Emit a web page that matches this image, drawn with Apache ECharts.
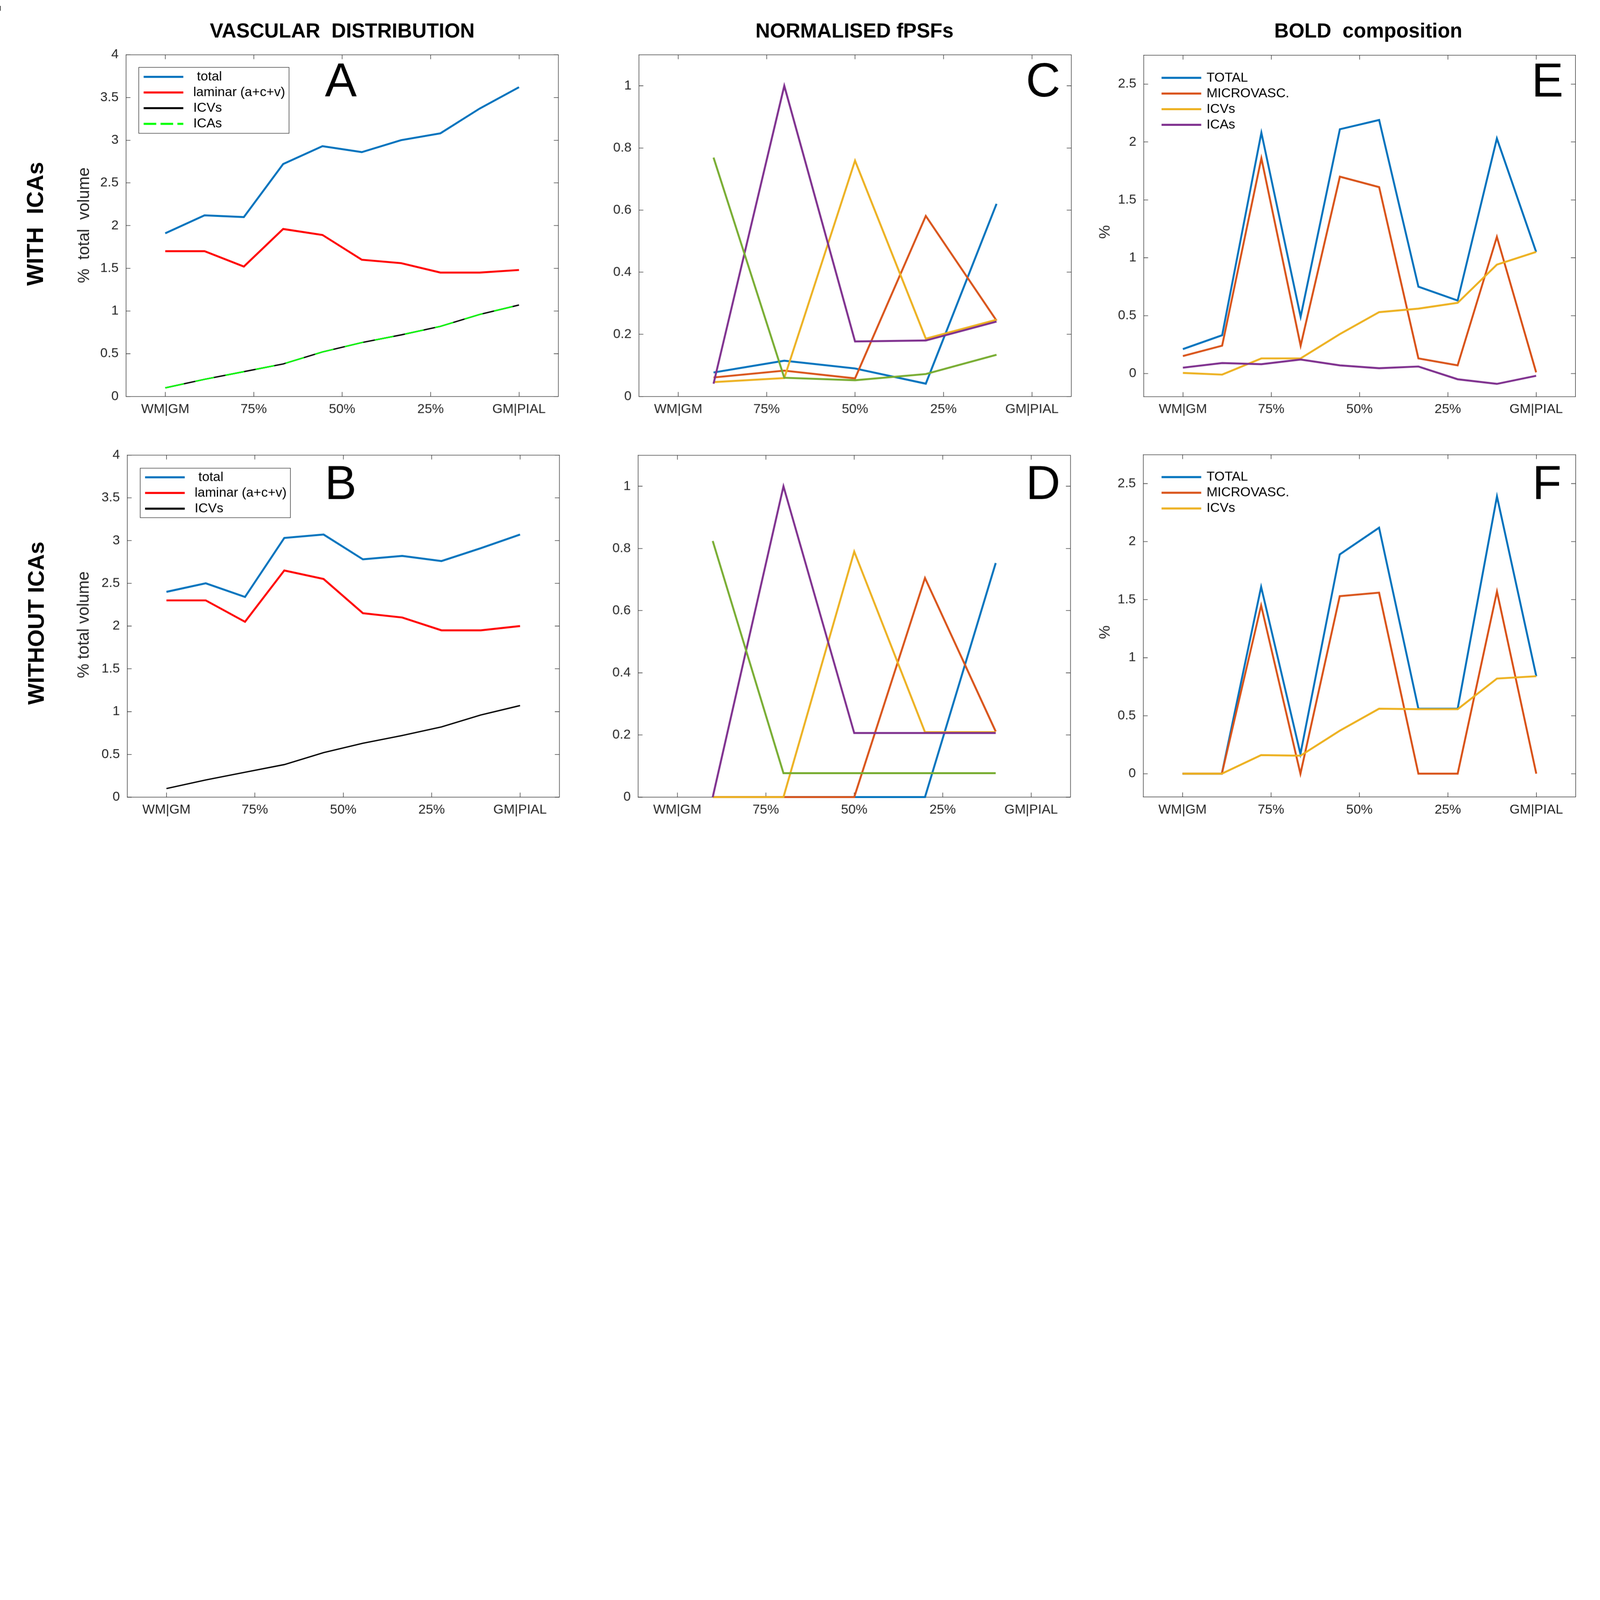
<!DOCTYPE html>
<html>
<head>
<meta charset="utf-8">
<script src="https://cdn.jsdelivr.net/npm/echarts@6/dist/echarts.min.js"></script>
<style>
html,body{margin:0;padding:0;background:#ffffff;overflow:hidden;}
#chart{width:7866px;height:4119px;transform-origin:0 0;}
</style>
</head>
<body>
<div id="chart"></div>
<script>
// ---------------- data ----------------
const xTickValues = [0, 25, 50, 75, 100];
const xTickLabels = ['WM|GM', '75%', '50%', '25%', 'GM|PIAL'];
// cortical depth of the 10 laminae (0 = WM|GM, 100 = GM|PIAL)
const layerDepth = [0, 11.11, 22.22, 33.33, 44.44, 55.56, 66.67, 77.78, 88.89, 100];
// centres of the 5 fPSF bins
const psfDepth = [10, 30, 50, 70, 90];

const volTicks = [0, 0.5, 1, 1.5, 2, 2.5, 3, 3.5, 4];
const psfTicks = [0, 0.2, 0.4, 0.6, 0.8, 1];
const boldTicks = [0, 0.5, 1, 1.5, 2, 2.5];

// Panel A : vascular distribution with ICAs
const aTotal   = [1.91, 2.12, 2.10, 2.72, 2.93, 2.86, 3.00, 3.08, 3.37, 3.62];
const aLaminar = [1.70, 1.70, 1.52, 1.96, 1.89, 1.60, 1.56, 1.45, 1.45, 1.48];
const aICVs    = [0.10, 0.20, 0.29, 0.38, 0.52, 0.63, 0.72, 0.82, 0.96, 1.07];
const aICAs    = [0.10, 0.20, 0.29, 0.38, 0.52, 0.63, 0.72, 0.82, 0.96, 1.07];

// Panel B : vascular distribution without ICAs
const bTotal   = [2.40, 2.50, 2.34, 3.03, 3.07, 2.78, 2.82, 2.76, 2.91, 3.07];
const bLaminar = [2.30, 2.30, 2.05, 2.65, 2.55, 2.15, 2.10, 1.95, 1.95, 2.00];
const bICVs    = [0.10, 0.20, 0.29, 0.38, 0.52, 0.63, 0.72, 0.82, 0.96, 1.07];

// Panel C : normalised fPSFs with ICAs
const cBlue   = [0.077, 0.115, 0.090, 0.041, 0.620];
const cOrange = [0.061, 0.083, 0.058, 0.581, 0.244];
const cYellow = [0.046, 0.059, 0.759, 0.186, 0.247];
const cPurple = [0.041, 1.000, 0.177, 0.180, 0.241];
const cGreen  = [0.769, 0.060, 0.052, 0.072, 0.134];

// Panel D : normalised fPSFs without ICAs
const dBlue   = [0, 0, 0, 0, 0.753];
const dOrange = [0, 0, 0, 0.705, 0.211];
const dYellow = [0, 0, 0.790, 0.209, 0.209];
const dPurple = [0, 1.000, 0.206, 0.206, 0.206];
const dGreen  = [0.824, 0.077, 0.077, 0.077, 0.077];

// Panel E : BOLD composition with ICAs
const eTotal = [0.21, 0.33, 2.08, 0.49, 2.11, 2.19, 0.75, 0.63, 2.03, 1.05];
const eMicro = [0.15, 0.24, 1.86, 0.24, 1.70, 1.61, 0.13, 0.07, 1.18, 0.01];
const eICVs  = [0.005, -0.01, 0.13, 0.13, 0.34, 0.53, 0.56, 0.61, 0.94, 1.05];
const eICAs  = [0.05, 0.09, 0.08, 0.12, 0.07, 0.045, 0.06, -0.05, -0.09, -0.02];

// Panel F : BOLD composition without ICAs
const fTotal = [0, 0, 1.61, 0.17, 1.89, 2.12, 0.56, 0.56, 2.39, 0.84];
const fMicro = [0, 0, 1.45, 0, 1.53, 1.56, 0, 0, 1.57, 0];
const fICVs  = [0, 0, 0.16, 0.155, 0.37, 0.56, 0.556, 0.556, 0.82, 0.84];

// ---------------- styling ----------------
const FONT = '"Liberation Sans", Arial, Helvetica, sans-serif';
const AX = '#262626';
const BLUE = '#0072BD', ORANGE = '#D95319', YELLOW = '#EDB120', PURPLE = '#7E2F8E', GREEN = '#77AC30';
const RED = '#FF0000', BLACK = '#000000', LIME = '#00FF00';
const THICK = 9.5, THIN = 6.5;

const grids = [
  {left: 619,  top: 269,  width: 2125, height: 1679}, // A
  {left: 625,  top: 2236, width: 2124, height: 1681}, // B
  {left: 3140, top: 269,  width: 2125, height: 1679}, // C
  {left: 3136, top: 2237, width: 2125, height: 1680}, // D
  {left: 5621, top: 271,  width: 2122, height: 1678}, // E
  {left: 5619, top: 2234, width: 2125, height: 1682}  // F
];
const yRanges = [
  {min: 0, max: 4, ticks: volTicks},
  {min: 0, max: 4, ticks: volTicks},
  {min: 0, max: 1.1, ticks: psfTicks},
  {min: 0, max: 1.1, ticks: psfTicks},
  {min: -0.2, max: 2.75, ticks: boldTicks},
  {min: -0.2, max: 2.75, ticks: boldTicks}
];

const xAxes = [], yAxes = [];
grids.forEach((g, gi) => {
  const lineStyle = {color: AX, width: 2.5};
  const xBase = {
    gridIndex: gi, type: 'value', min: -11.11, max: 111.11,
    splitLine: {show: false}, splitArea: {show: false},
    axisLine: {show: true, onZero: false, lineStyle},
    axisTick: {show: true, inside: true, length: 22, customValues: xTickValues, lineStyle}
  };
  xAxes.push(Object.assign({}, xBase, {
    position: 'bottom',
    axisLabel: {show: true, customValues: xTickValues, margin: 31, fontSize: 65, fontFamily: FONT, color: AX,
      formatter: v => { const i = xTickValues.indexOf(v); return i >= 0 ? xTickLabels[i] : ''; }}
  }));
  xAxes.push(Object.assign({}, xBase, {position: 'top', axisLabel: {show: false}}));
  const r = yRanges[gi];
  const yBase = {
    gridIndex: gi, type: 'value', min: r.min, max: r.max,
    splitLine: {show: false}, splitArea: {show: false},
    axisLine: {show: true, onZero: false, lineStyle},
    axisTick: {show: true, inside: true, length: 22, customValues: r.ticks, lineStyle}
  };
  yAxes.push(Object.assign({}, yBase, {
    position: 'left',
    axisLabel: {show: true, customValues: r.ticks, margin: 36, fontSize: 65, fontFamily: FONT, color: AX}
  }));
  yAxes.push(Object.assign({}, yBase, {position: 'right', axisLabel: {show: false}}));
});

const series = [];
function addLine(gi, name, xs, ys, color, width, dash) {
  series.push({
    type: 'line', name: name,
    xAxisIndex: 2 * gi, yAxisIndex: 2 * gi,
    data: xs.map((x, i) => [x, ys[i]]),
    symbol: 'none', showSymbol: false, silent: true, clip: true,
    emphasis: {disabled: true},
    itemStyle: {color: color},
    lineStyle: {color: color, width: width, type: dash || 'solid', join: 'miter', miterLimit: 10, cap: 'butt'}
  });
}
// A
addLine(0, 'total', layerDepth, aTotal, BLUE, THICK);
addLine(0, 'laminar (a+c+v)', layerDepth, aLaminar, RED, THICK);
addLine(0, 'ICVs', layerDepth, aICVs, BLACK, THIN);
addLine(0, 'ICAs', layerDepth, aICAs, LIME, THIN, [94, 57]);
// B
addLine(1, 'total', layerDepth, bTotal, BLUE, THICK);
addLine(1, 'laminar (a+c+v)', layerDepth, bLaminar, RED, THICK);
addLine(1, 'ICVs', layerDepth, bICVs, BLACK, THIN);
// C
addLine(2, 'c1', psfDepth, cBlue, BLUE, THICK);
addLine(2, 'c2', psfDepth, cOrange, ORANGE, THICK);
addLine(2, 'c3', psfDepth, cYellow, YELLOW, THICK);
addLine(2, 'c4', psfDepth, cPurple, PURPLE, THICK);
addLine(2, 'c5', psfDepth, cGreen, GREEN, THICK);
// D
addLine(3, 'd1', psfDepth, dBlue, BLUE, THICK);
addLine(3, 'd2', psfDepth, dOrange, ORANGE, THICK);
addLine(3, 'd3', psfDepth, dYellow, YELLOW, THICK);
addLine(3, 'd4', psfDepth, dPurple, PURPLE, THICK);
addLine(3, 'd5', psfDepth, dGreen, GREEN, THICK);
// E
addLine(4, 'TOTAL', layerDepth, eTotal, BLUE, THICK);
addLine(4, 'MICROVASC.', layerDepth, eMicro, ORANGE, THICK);
addLine(4, 'ICVs', layerDepth, eICVs, YELLOW, THICK);
addLine(4, 'ICAs', layerDepth, eICAs, PURPLE, THICK);
// F
addLine(5, 'TOTAL', layerDepth, fTotal, BLUE, THICK);
addLine(5, 'MICROVASC.', layerDepth, fMicro, ORANGE, THICK);
addLine(5, 'ICVs', layerDepth, fICVs, YELLOW, THICK);

function li(name, color, dash) {
  return {name: name,
    itemStyle: {color: 'rgba(0,0,0,0)', borderWidth: 0},
    lineStyle: {color: color, width: 10, type: dash || 'solid', opacity: 1}};
}
const legendBase = {
  orient: 'vertical', itemWidth: 195, itemHeight: 20, itemGap: 12,
  selectedMode: false, align: 'left'
};
const legends = [
  Object.assign({}, legendBase, {
    left: 682, top: 331, padding: [14, 19, 14, 19],
    borderColor: AX, borderWidth: 2.5, backgroundColor: '#ffffff',
    textStyle: {fontSize: 65, fontFamily: FONT, color: '#000', padding: [0, 0, 0, 44]},
    formatter: n => (n === 'total' ? ' total' : n),
    data: [li('total', BLUE), li('laminar (a+c+v)', RED), li('ICVs', BLACK), li('ICAs', LIME, [62, 21])]
  }),
  Object.assign({}, legendBase, {
    left: 689, top: 2301, padding: [12, 19, 12, 19],
    borderColor: AX, borderWidth: 2.5, backgroundColor: '#ffffff',
    textStyle: {fontSize: 65, fontFamily: FONT, color: '#000', padding: [0, 0, 0, 44]},
    formatter: n => (n === 'total' ? ' total' : n),
    data: [li('total', BLUE), li('laminar (a+c+v)', RED), li('ICVs', BLACK)]
  }),
  Object.assign({}, legendBase, {
    left: 5704, top: 350, padding: 0, borderWidth: 0,
    textStyle: {fontSize: 65, fontFamily: FONT, color: '#000', padding: [0, 0, 0, 21]},
    data: [li('TOTAL', BLUE), li('MICROVASC.', ORANGE), li('ICVs', YELLOW), li('ICAs', PURPLE)]
  }),
  Object.assign({}, legendBase, {
    left: 5704, top: 2312, padding: 0, borderWidth: 0,
    textStyle: {fontSize: 65, fontFamily: FONT, color: '#000', padding: [0, 0, 0, 21]},
    data: [li('TOTAL', BLUE), li('MICROVASC.', ORANGE), li('ICVs', YELLOW)]
  })
];

function txt(text, x, y, size, weight, rot, color) {
  return {type: 'text', x: x, y: y, rotation: rot || 0, silent: true, z: 100,
    style: {text: text, fontSize: size, fontWeight: weight || 'normal', fontFamily: FONT,
      fill: color || '#000', align: 'center', verticalAlign: 'middle'}};
}
const graphics = [
  txt('VASCULAR  DISTRIBUTION', 1682, 158, 99, 'bold'),
  txt('NORMALISED fPSFs', 4200, 158, 99, 'bold'),
  txt('BOLD  composition', 6725, 158, 99, 'bold'),
  txt('WITH  ICAs', 181, 1100, 113, 'bold', Math.PI / 2),
  txt('WITHOUT ICAs', 184, 3062, 111, 'bold', Math.PI / 2),
  txt('%  total  volume', 415, 1107, 80, 'normal', Math.PI / 2, AX),
  txt('% total volume', 413, 3070, 80, 'normal', Math.PI / 2, AX),
  txt('%', 5433, 1140, 76, 'normal', Math.PI / 2, AX),
  txt('%', 5433, 3107, 76, 'normal', Math.PI / 2, AX),
  txt('A', 1675, 409, 235),
  txt('C', 5127, 409, 235),
  txt('E', 7606, 409, 235),
  txt('B', 1674, 2388, 235),
  txt('D', 5127, 2388, 235),
  txt('F', 7603, 2388, 235),
  {type: 'rect', shape: {x: 0, y: 29, width: 3, height: 24}, style: {fill: AX}, silent: true}
];

// The design is laid out in the reference's 7866x4119 pixel space; fit it to the window.
const W = 7866, H = 4119;
const fit = Math.min(1, window.innerWidth / W, window.innerHeight / H);
const dom = document.getElementById('chart');
dom.style.transform = 'scale(' + fit + ')';
const chart = echarts.init(dom, null, {renderer: 'canvas', width: W, height: H, devicePixelRatio: fit});
chart.setOption({
  animation: false,
  backgroundColor: '#ffffff',
  grid: grids.map(g => Object.assign({show: false, containLabel: false, outerBoundsMode: 'none'}, g)),
  xAxis: xAxes,
  yAxis: yAxes,
  legend: legends,
  tooltip: {show: false},
  series: series,
  graphic: graphics
});
</script>
</body>
</html>
